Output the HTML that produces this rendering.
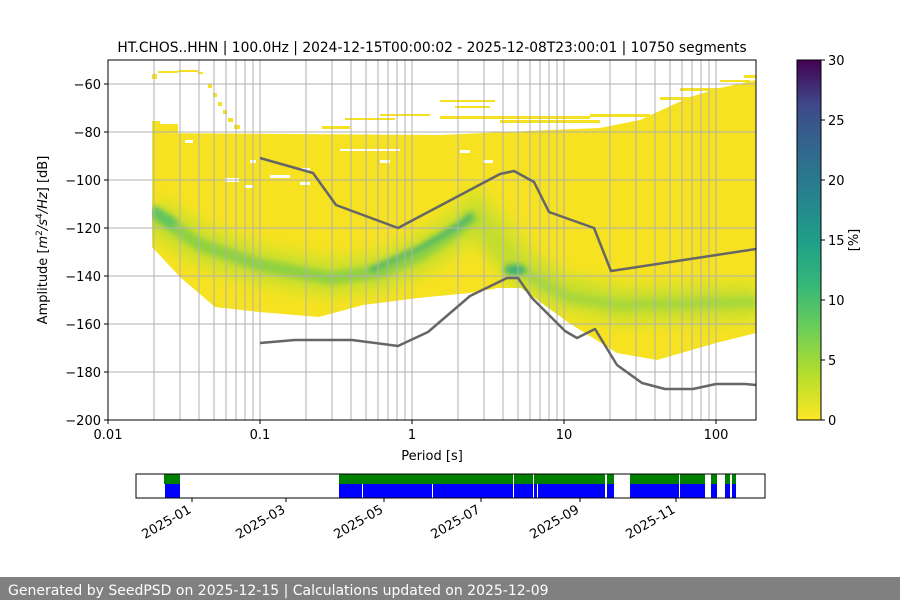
<!DOCTYPE html>
<html><head><meta charset="utf-8"><style>
body{margin:0;background:#fff;width:900px;height:600px;overflow:hidden;font-family:"DejaVu Sans","Liberation Sans",sans-serif;}
</style></head><body>
<svg width="900" height="600" xmlns="http://www.w3.org/2000/svg" font-family="DejaVu Sans, Liberation Sans, sans-serif">
<defs>
<filter id="b1" x="-20%" y="-50%" width="140%" height="200%"><feGaussianBlur stdDeviation="6"/></filter>
<filter id="b2" x="-20%" y="-50%" width="140%" height="200%"><feGaussianBlur stdDeviation="3"/></filter>
<clipPath id="yc"><path id="ypoly" d="M152,133 L440,135 L550,130 L600,128 L640,120 L690,97 L720,88 L756,80 L756,333 L716,343 L657,360 L617,353 L569,323 L521,288 L498,288 L470,293 L418,298 L363,305 L319,317 L259,312 L215,307 L180,277 L152,247 Z"/></clipPath>
<linearGradient id="cb" x1="0" y1="1" x2="0" y2="0">
<stop offset="0" stop-color="#fde725"/><stop offset="0.125" stop-color="#b5de2b"/><stop offset="0.25" stop-color="#6ece58"/><stop offset="0.375" stop-color="#35b779"/><stop offset="0.5" stop-color="#1f9e89"/><stop offset="0.625" stop-color="#26828e"/><stop offset="0.75" stop-color="#31688e"/><stop offset="0.875" stop-color="#3e4989"/><stop offset="1" stop-color="#440154"/>
</linearGradient>
</defs>
<g>
<use href="#ypoly" fill="#f6e221"/>
<g clip-path="url(#yc)">
<polyline points="152,215 200,245 260,265 330,278 380,272 420,255 460,228 475,215 500,240 520,268 560,292 620,305 756,302" fill="none" stroke="#dde227" stroke-width="44" filter="url(#b1)"/>
<polyline points="152,215 200,245 260,265 330,278 380,272 420,255 460,228 475,215 498,245 520,268 560,292 620,305 756,302" fill="none" stroke="#c2dd2e" stroke-width="22" filter="url(#b1)"/>
<polyline points="152,212 200,245 260,265 330,278 380,272 420,255 460,228 475,215" fill="none" stroke="#8ed142" stroke-width="12" filter="url(#b2)"/>
<polyline points="152,210 175,225" fill="none" stroke="#5ec462" stroke-width="10" filter="url(#b2)"/>
<polyline points="370,270 420,248 460,225 472,215" fill="none" stroke="#35ac7c" stroke-width="4" filter="url(#b2)"/>
<polyline points="505,266 520,270 545,285 570,298 620,305 756,302" fill="none" stroke="#a8d83a" stroke-width="10" filter="url(#b2)"/>
<ellipse cx="515" cy="270" rx="11" ry="5" fill="#3aae7a" filter="url(#b2)"/>
</g>
<g fill="#f6e221">
<rect x="152" y="74" width="5" height="5"/><rect x="158" y="71" width="20" height="2"/><rect x="178" y="70" width="20" height="2"/><rect x="198" y="72" width="5" height="2"/>
<rect x="208" y="84" width="4" height="4"/><rect x="213" y="93" width="4" height="4"/><rect x="218" y="102" width="4" height="4"/><rect x="223" y="110" width="4" height="4"/><rect x="228" y="118" width="5" height="4"/><rect x="234" y="125" width="6" height="4"/>
<rect x="152" y="121" width="8" height="3"/><rect x="152" y="124" width="26" height="9"/>
<rect x="322" y="126" width="28" height="3"/><rect x="345" y="118" width="50" height="2"/><rect x="380" y="114" width="50" height="2"/>
<rect x="440" y="100" width="55" height="2"/><rect x="440" y="116" width="150" height="3"/><rect x="455" y="106" width="35" height="2"/><rect x="500" y="120" width="100" height="3"/><rect x="590" y="114" width="60" height="3"/><rect x="660" y="97" width="35" height="3"/><rect x="680" y="88" width="40" height="3"/><rect x="720" y="80" width="30" height="2"/><rect x="744" y="75" width="12" height="3"/>
</g>
<g fill="#fff">
<rect x="185" y="140" width="8" height="3"/><rect x="250" y="160" width="6" height="3"/><rect x="270" y="175" width="20" height="3"/><rect x="300" y="168" width="10" height="3"/><rect x="225" y="178" width="14" height="4"/><rect x="340" y="149" width="60" height="2"/><rect x="380" y="160" width="10" height="3"/><rect x="460" y="150" width="10" height="3"/><rect x="483" y="160" width="10" height="3"/><rect x="245" y="185" width="8" height="3"/><rect x="300" y="182" width="10" height="3"/>
</g>
</g>
<g stroke="#b0b0b0" stroke-width="1">
<path d="M154,60V420M180,60V420M199,60V420M214,60V420M226,60V420M236,60V420M245,60V420M253,60V420M260,60V420M306,60V420M332,60V420M351,60V420M366,60V420M378,60V420M388,60V420M397,60V420M405,60V420M412,60V420M458,60V420M484,60V420M503,60V420M518,60V420M530,60V420M540,60V420M549,60V420M557,60V420M564,60V420M610,60V420M636,60V420M655,60V420M670,60V420M682,60V420M692,60V420M701,60V420M709,60V420M716,60V420"/>
<path d="M108,84H756M108,132H756M108,180H756M108,228H756M108,276H756M108,324H756M108,372H756"/>
</g>
<g fill="none" stroke="#666" stroke-width="2.5" stroke-linejoin="round">
<polyline points="260,158 313,173 336,205 398,228 500,174 514,171 534,182 549,212 594,228 611,271 756,249"/>
<polyline points="260,343 295,340 352,340 398,346 428,332 470,296 507,278 518,278 532,298 565,331 577,338 595,329 617,365 642,383 665,389 693,389 716,384 745,384 756,385"/>
</g>
<rect x="108" y="60" width="648" height="360" fill="none" stroke="#000" stroke-width="1"/>
<g stroke="#000" stroke-width="1">
<path d="M108,420v4M260,420v4M412,420v4M564,420v4M716,420v4"/>
<path d="M104,84h4M104,132h4M104,180h4M104,228h4M104,276h4M104,324h4M104,372h4M104,420h4"/>
</g>
<g font-size="13" fill="#000" text-anchor="end">
<text x="101" y="89">−60</text><text x="101" y="137">−80</text><text x="101" y="185">−100</text><text x="101" y="233">−120</text><text x="101" y="281">−140</text><text x="101" y="329">−160</text><text x="101" y="377">−180</text><text x="101" y="425">−200</text>
</g>
<g font-size="13" fill="#000" text-anchor="middle">
<text x="108" y="439">0.01</text><text x="260" y="439">0.1</text><text x="412" y="439">1</text><text x="564" y="439">10</text><text x="716" y="439">100</text>
<text x="432" y="460">Period [s]</text>
<text x="432" y="52" font-size="13.8">HT.CHOS..HHN | 100.0Hz | 2024-12-15T00:00:02 - 2025-12-08T23:00:01 | 10750 segments</text>
</g>
<text transform="translate(47,240) rotate(-90)" font-size="13" text-anchor="middle">Amplitude [<tspan font-style="italic">m</tspan><tspan font-size="9" dy="-5">2</tspan><tspan dy="5" font-style="italic">/s</tspan><tspan font-size="9" dy="-5">4</tspan><tspan dy="5" font-style="italic">/Hz</tspan>] [dB]</text>
<rect x="797" y="60" width="24" height="360" fill="url(#cb)" stroke="#000" stroke-width="1"/>
<g stroke="#000"><path d="M821,420h4M821,360h4M821,300h4M821,240h4M821,180h4M821,120h4M821,60h4"/></g>
<g font-size="13"><text x="828" y="425">0</text><text x="828" y="365">5</text><text x="828" y="305">10</text><text x="828" y="245">15</text><text x="828" y="185">20</text><text x="828" y="125">25</text><text x="828" y="65">30</text></g>
<text transform="translate(858,240) rotate(-90)" font-size="13" text-anchor="middle">[%]</text>
<g fill="#008000">
<rect x="164" y="474" width="16" height="10"/><rect x="339" y="474" width="261" height="10"/><rect x="600" y="474" width="5" height="10"/><rect x="607" y="474" width="7" height="10"/><rect x="630" y="474" width="75" height="10"/><rect x="711" y="474" width="6" height="10"/><rect x="725" y="474" width="5" height="10"/><rect x="732" y="474" width="4" height="10"/>
</g>
<g fill="#0000ff">
<rect x="165" y="484" width="15" height="14"/><rect x="339" y="484" width="261" height="14"/><rect x="600" y="484" width="5" height="14"/><rect x="607" y="484" width="7" height="14"/><rect x="630" y="484" width="75" height="14"/><rect x="711" y="484" width="6" height="14"/><rect x="725" y="484" width="5" height="14"/><rect x="732" y="484" width="4" height="14"/>
</g>
<g fill="#fff"><rect x="362" y="484" width="1" height="14"/><rect x="432" y="484" width="1" height="14"/><rect x="513" y="474" width="1" height="24"/><rect x="533" y="474" width="1" height="24"/><rect x="537" y="484" width="1" height="14"/><rect x="679" y="474" width="1" height="24"/></g>
<rect x="136" y="474" width="629" height="24" fill="none" stroke="#000"/>
<g stroke="#000"><path d="M192,498v4M286,498v4M384,498v4M481,498v4M580,498v4M676,498v4"/></g>
<g font-size="13" text-anchor="end">
<text transform="translate(192,512) rotate(-30)">2025-01</text>
<text transform="translate(286,512) rotate(-30)">2025-03</text>
<text transform="translate(384,512) rotate(-30)">2025-05</text>
<text transform="translate(481,512) rotate(-30)">2025-07</text>
<text transform="translate(580,512) rotate(-30)">2025-09</text>
<text transform="translate(676,512) rotate(-30)">2025-11</text>
</g>
<rect x="0" y="577" width="900" height="23" fill="#808080"/>
<text x="8" y="595" font-size="14" fill="#fff" font-family="DejaVu Sans, sans-serif">Generated by SeedPSD on 2025-12-15 | Calculations updated on 2025-12-09</text>
</svg>
</body></html>
